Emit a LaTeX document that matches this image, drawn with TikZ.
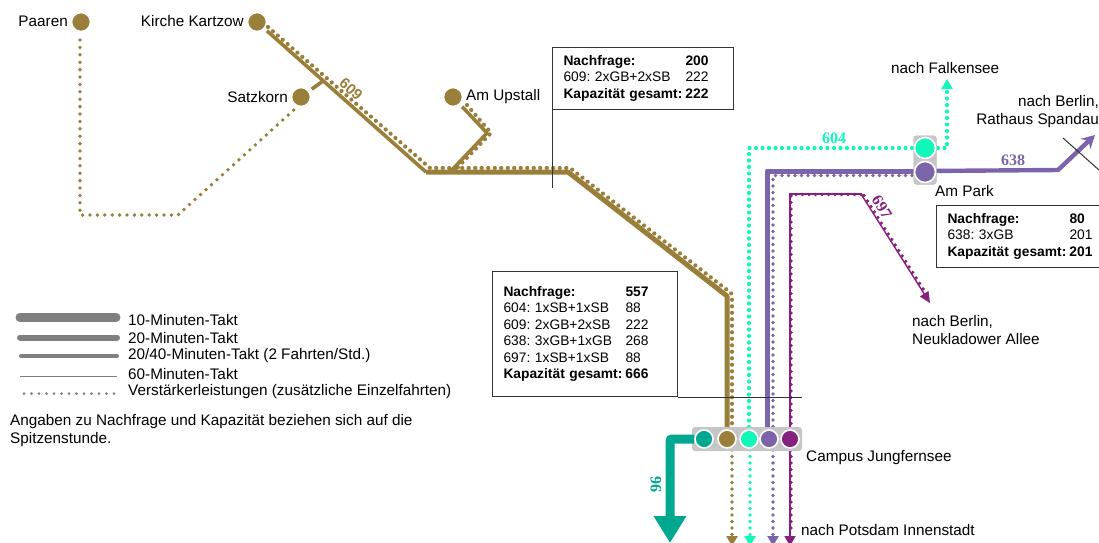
\documentclass[tikz,border=0pt]{standalone}
\usepackage{fontspec}
\setmainfont{Liberation Sans}
\newfontfamily\numfont{Liberation Serif}
\usetikzlibrary{arrows.meta,positioning,calc}
\definecolor{LineGold}{HTML}{9A7F3A}
\definecolor{LineMint}{HTML}{10F8B8}
\definecolor{LineBlue}{HTML}{7B64AA}
\definecolor{LinePurple}{HTML}{85207F}
\definecolor{LineTeal}{HTML}{00A890}
\definecolor{HubGrey}{HTML}{C6C6C6}
\definecolor{KeyGrey}{HTML}{808080}
\definecolor{BoxLine}{HTML}{333333}

\newcommand{\infotable}[1]{\begin{tabular}{@{}p{122pt}@{}l@{}}#1\end{tabular}}
\frenchspacing

\begin{document}
\begin{tikzpicture}[
    x=1pt,y=-1pt,
    rail/.style={
      color=#1,
      line width=5pt,
      line join=round
    },
    thinrail/.style={
      color=#1,
      line width=3.6pt,
      line join=round
    },
    hairrail/.style={
      color=#1,
      line width=1.4pt
    },
    dots/.style={
      color=#1,
      line width=4.2pt,
      line cap=round,
      dash pattern=on 0pt off 6.5pt
    },
    halt/.style={
      circle,
      fill=#1,
      draw=white,
      line width=1.6pt,
      minimum size=18pt,
      inner sep=0pt
    },
    hub/.style={
      fill=HubGrey,
      rounded corners=3pt,
      minimum width=#1,
      inner sep=0pt
    },
    place/.style={
      font=\fontsize{15.3}{18}\selectfont,
      inner sep=0pt,
      anchor=west
    },
    number/.style={
      font=\fontsize{16}{18}\selectfont\bfseries\numfont,
      color=#1,
      inner sep=0pt
    },
    infobox/.style={
      draw=BoxLine,
      line width=1pt,
      anchor=north west,
      text width=#1,
      minimum height=62pt,
      inner xsep=11pt,
      inner ysep=0pt,
      align=left,
      font=\fontsize{13.8}{16.5}\selectfont
    },
    leader/.style={
      draw=BoxLine,
      line width=1pt
    },
    tip/.style={
      -{Triangle[length=10pt,width=11pt]}
    }
  ]
  \useasboundingbox (0,0) rectangle (1099,542);

  % line 609
  \node[halt=LineGold,minimum size=19pt] (paaren) at (81,22) {};
  \node[halt=LineGold,minimum size=19pt] (kartzow) at (257,22) {};
  \node[halt=LineGold,minimum size=19pt] (satzkorn) at (301,97) {};
  \node[halt=LineGold,minimum size=19pt] (upstall) at (453,97) {};
  \coordinate (bendA) at (426,172);
  \coordinate (bendB) at (568,172);
  \coordinate (bendC) at (727,296);
  \coordinate (upperJoin) at (323,81);
  \coordinate (upstallBend) at (487,133);
  \coordinate (upstallFoot) at (450,172);
  \coordinate (campusGold) at (727,430);

  \draw[thinrail=LineGold,shorten <=3pt] (kartzow) -- (bendA);
  \draw[thinrail=LineGold,shorten <=3pt] (satzkorn) -- (upperJoin);
  \draw[thinrail=LineGold,shorten <=3pt] (upstall) -- (upstallBend) -- (upstallFoot);
  \draw[rail=LineGold] (bendA) -- (bendB) -- (bendC) -- (campusGold);
  \draw[dots=LineGold] (268,27) -- (430,168) -- (570,168) -- (731,293) -- (732,296) -- (732,430);
  \draw[dots=LineGold] (467,105) -- (491,133) -- (456,169);
  \draw[dots=LineGold,line width=3.8pt,dash pattern=on 0pt off 7.4pt] (80,40) -- (80,215) -- (178,215) -- (296,108);
  \draw[dots=LineGold,line width=3.8pt,tip] (732,450) -- (732,546);

  % line 604
  \node[hub=23pt,minimum height=49pt] (hubPark) at (925,160) {};
  \draw[dots=LineMint] (925,148) -- (749,148) -- (749,430);
  \draw[dots=LineMint,tip] (925,148) -- (947,148) -- (947,79);
  \draw[dots=LineMint,line width=3.8pt,tip] (750,450) -- (750,546);

  % line 638
  \coordinate (bend638) at (1058,170);
  \coordinate (arrow638) at (1095,135);
  \draw[rail=LineBlue] (767,430) -- (767,171) -- (925,171);
  \draw[line width=4.4pt,color=LineBlue,line join=round,-{Stealth[length=13pt,width=14pt]}] (925,171) -- (bend638) -- (arrow638);
  \draw[dots=LineBlue,line width=3.8pt] (925,175.5) -- (773,175.5) -- (773,430);
  \draw[dots=LineBlue,line width=3.8pt,tip] (773,450) -- (773,546);

  % line 697
  \coordinate (corner697) at (861,194);
  \draw[hairrail=LinePurple] (790,430) -- (790,194) -- (corner697);
  \draw[hairrail=LinePurple,-{Triangle[length=11pt,width=10pt]}] (corner697) -- (930,303);
  \draw[dots=LinePurple,line width=3.6pt] (861,194.5) -- (791,194.5) -- (791,430);
  \draw[dots=LinePurple,line width=3.6pt] (864,195.5) -- (928,296.5);
  \draw[hairrail=LinePurple,tip] (790,450) -- (790,546);
  \draw[dots=LinePurple,line width=3.6pt] (791,450) -- (791,532);

  % Am Park
  \node[hub=23pt,minimum height=49pt] at (hubPark) {};
  \node[halt=LineMint,minimum size=21pt] (parkMint) at (925,148) {};
  \node[halt=LineBlue,minimum size=21pt] (parkBlue) at (925,172) {};

  % Campus Jungfernsee
  \node[hub=110pt,minimum height=24pt] (hubCampus) at (747,439) {};
  \node[halt=LineTeal] (campusTeal) at (704,439) {};
  \node[halt=LineGold] (campusLineGold) at (727,439) {};
  \node[halt=LineMint] (campusMint) at (749,439) {};
  \node[halt=LineBlue] (campusBlue) at (769,439) {};
  \node[halt=LinePurple] (campusPurple) at (790,439) {};
  \coordinate (corner96) at (670,439);
  \coordinate (arrow96) at (670,543);
  \draw[color=LineTeal,line width=9pt,rounded corners=2pt,-{Triangle[length=27pt,width=31pt]}] (campusTeal) -- (corner96) -- (arrow96);

  % boxes
  \node[infobox=159pt] (box609) at (552,47) {\infotable{
    \textbf{Nachfrage:} & \textbf{200}\\
    609: 2xGB+2xSB & 222\\
    \textbf{Kapazität gesamt:} & \textbf{222}}};
  \coordinate (tail609) at (552,188);
  \draw[leader] (box609.south west) -- (tail609);

  \node[infobox=163pt,minimum height=125pt] (boxCampus) at (492,271) {\infotable{
    \textbf{Nachfrage:} & \textbf{557}\\
    604: 1xSB+1xSB & 88\\
    609: 2xGB+2xSB & 222\\
    638: 3xGB+1xGB & 268\\
    697: 1xSB+1xSB & 88\\
    \textbf{Kapazität gesamt:} & \textbf{666}}};
  \coordinate (tailCampus) at (802,396);
  \draw[leader] (boxCampus.south east) -- (boxCampus.south east -| tailCampus);

  \node[infobox=150pt] (boxPark) at (936,205) {\infotable{
    \textbf{Nachfrage:} & \textbf{80}\\
    638: 3xGB & 201\\
    \textbf{Kapazität gesamt:} & \textbf{201}}};
  \coordinate (crossA) at (1063,138);
  \coordinate (crossB) at (1099,170);
  \draw[color=BoxLine,line width=1pt] (crossA) -- (crossB);

  % place names
  \node[place,anchor=east] (tPaaren) at (68,21) {Paaren};
  \node[place,anchor=east] (tKartzow) at (244,21) {Kirche Kartzow};
  \node[place,anchor=east] (tSatzkorn) at (288,97) {Satzkorn};
  \node[place] (tUpstall) at (466,97) {Am Upstall};
  \node[place] (tFalkensee) at (891,68) {nach Falkensee};
  \node[place,anchor=east,align=right] (tSpandau) at (1099,112) {nach Berlin,\\Rathaus Spandau};
  \node[place] (tPark) at (935,191) {Am Park};
  \node[place,align=left] (tNeukladow) at (912,330) {nach Berlin,\\Neukladower Allee};
  \node[place] (tCampus) at (806,458) {Campus Jungfernsee};
  \node[place] (tPotsdam) at (801,530) {nach Potsdam Innenstadt};

  % line numbers
  \node[number=LineGold,font=\fontsize{15}{16}\selectfont\bfseries,rotate=-42] (n609) at (351,89) {609};
  \node[number=LineMint] (n604) at (834,138) {604};
  \node[number=LineBlue] (n638) at (1013,160) {638};
  \node[number=LinePurple,rotate=-58] (n697) at (882,207) {697};
  \node[number=LineTeal,rotate=90] (n96) at (656,484) {96};

  % key
  \coordinate (keyA) at (20,317.5);
  \coordinate (keyB) at (116,317.5);
  \coordinate (keyC) at (20,337.5);
  \coordinate (keyD) at (117,337.5);
  \coordinate (keyE) at (21,356);
  \coordinate (keyF) at (117,356);
  \coordinate (keyG) at (20,376);
  \coordinate (keyH) at (117,376);
  \coordinate (keyI) at (24,393.5);
  \coordinate (keyJ) at (119,393.5);
  \draw[color=KeyGrey,line width=9pt,line cap=round] (keyA) -- (keyB);
  \draw[color=KeyGrey,line width=6pt,line cap=round] (keyC) -- (keyD);
  \draw[color=KeyGrey,line width=4pt,line cap=round] (keyE) -- (keyF);
  \draw[color=KeyGrey,line width=1pt] (keyG) -- (keyH);
  \draw[color=KeyGrey,line width=3pt,line cap=round,dash pattern=on 0pt off 7.5pt] (keyI) -- (keyJ);
  \node[place] (k10) at (128,320) {10-Minuten-Takt};
  \node[place] (k20) at (128,338) {20-Minuten-Takt};
  \node[place] (k40) at (128,356) {20/40-Minuten-Takt (2 Fahrten/Std.)};
  \node[place] (k60) at (128,374) {60-Minuten-Takt};
  \node[place] (kExtra) at (128,392) {Verstärkerleistungen (zusätzliche Einzelfahrten)};
  \node[place,align=left] (kNote) at (10,431) {Angaben zu Nachfrage und Kapazität beziehen sich auf die\\Spitzenstunde.};

\end{tikzpicture}
\end{document}
